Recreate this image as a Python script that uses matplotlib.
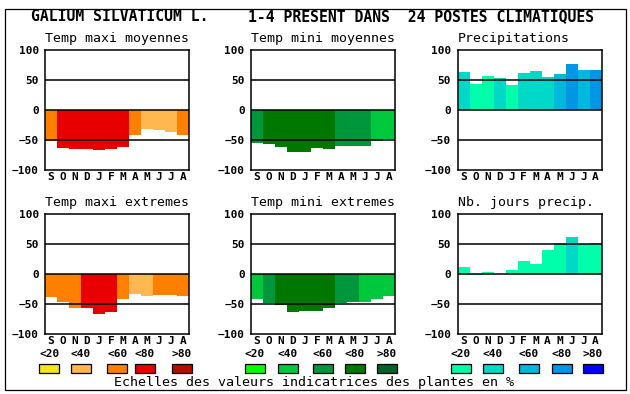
import matplotlib
matplotlib.use("Agg")
import matplotlib.pyplot as plt
from matplotlib.patches import Rectangle

# ---------------- data ----------------
months = ["S", "O", "N", "D", "J", "F", "M", "A", "M", "J", "J", "A"]
yticks = [100, 50, 0, -50, -100]
ytick_labels = ["100", "50", "0", "\u221250", "\u2212100"]
legend_labels = ["<20", "<40", "<60", "<80", ">80"]

title_left = "GALIUM SILVATICUM L."
title_right = "1-4 PRESENT DANS  24 POSTES CLIMATIQUES"
footer = "Echelles des valeurs indicatrices des plantes en %"

panel_titles = ["Temp maxi moyennes", "Temp mini moyennes", "Precipitations",
                "Temp maxi extremes", "Temp mini extremes", "Nb. jours precip."]

tmax_moy = [-52, -64, -65, -65, -67, -65, -62, -42, -31, -34, -37, -41]
tmax_moy_cls = [2, 3, 3, 3, 3, 3, 3, 2, 1, 1, 1, 2]

tmin_moy = [-55, -57, -62, -70, -70, -64, -65, -60, -60, -60, -52, -48]
tmin_moy_cls = [2, 3, 3, 3, 3, 3, 3, 2, 2, 2, 1, 1]

precip = [64, 44, 57, 54, 42, 62, 65, 55, 60, 77, 67, 67]
precip_cls = [1, 0, 0, 1, 0, 1, 1, 1, 2, 3, 2, 3]

tmax_ext = [-38, -46, -56, -56, -66, -64, -42, -34, -36, -35, -35, -36]
tmax_ext_cls = [2, 2, 2, 3, 3, 3, 2, 1, 1, 2, 2, 2]

tmin_ext = [-42, -49, -52, -64, -62, -62, -56, -49, -46, -46, -42, -37]
tmin_ext_cls = [1, 2, 3, 3, 3, 3, 3, 2, 2, 1, 1, 1]

nb_jours = [12, -2, 4, 0, 7, 22, 17, 40, 52, 62, 50, 52]
nb_jours_cls = [0, 0, 0, 0, 0, 0, 0, 0, 0, 1, 0, 0]

pal_warm = ["#F8E41C", "#FFB850", "#FF8000", "#E80000", "#B01000"]
pal_green = ["#00FF00", "#00C83C", "#00963C", "#007800", "#006428"]
pal_blue = ["#00FFAA", "#00D8C8", "#00B8DC", "#0096E6", "#0000FF"]

# ---------------- layout ----------------
W, H = 630, 394
fig = plt.figure(figsize=(W / 100, H / 100), dpi=100)

def fx(x):
    return x / W

def fy(y):
    return 1 - y / H

MONO = "DejaVu Sans Mono"

# outer border
fig.patches.append(Rectangle((fx(4.5), fy(389.5)), fx(621), 381 / H, transform=fig.transFigure,
                             fill=False, edgecolor="black", linewidth=0.9))

fig.text(fx(31), fy(21), title_left, family=MONO, weight="bold", fontsize=10.6, ha="left", va="baseline")
fig.text(fx(248), fy(21), title_right, family=MONO, weight="bold", fontsize=10.6, ha="left", va="baseline")

panels = [
    (tmax_moy, tmax_moy_cls, pal_warm),
    (tmin_moy, tmin_moy_cls, pal_green),
    (precip, precip_cls, pal_blue),
    (tmax_ext, tmax_ext_cls, pal_warm),
    (tmin_ext, tmin_ext_cls, pal_green),
    (nb_jours, nb_jours_cls, pal_blue),
]

lefts = [45, 251, 457.5]
tops = [50, 214]
aw, ah = 144, 120

for i, (vals, cls, pal) in enumerate(panels):
    r, c = divmod(i, 3)
    ax = fig.add_axes([fx(lefts[c]), fy(tops[r] + ah), aw / W, ah / H])
    ax.bar(range(12), vals, width=1.0, color=[pal[k] for k in cls], linewidth=0, zorder=1)
    for yv in (50, 0, -50):
        ax.axhline(yv, color="black", linewidth=1.1, zorder=3)
    ax.set_xlim(-0.5, 11.5)
    ax.set_ylim(-100, 100)
    ax.set_yticks(yticks)
    ax.set_yticklabels(ytick_labels, family=MONO, weight="bold", fontsize=8)
    ax.set_xticks(range(12))
    ax.set_xticklabels(months, family=MONO, weight="bold", fontsize=8)
    ax.tick_params(axis="y", length=0, pad=4.5)
    ax.tick_params(axis="x", length=0, pad=1.5)
    for sp in ax.spines.values():
        sp.set_linewidth(1.1)
        sp.set_color("black")
    t = ax.set_title(panel_titles[i], loc="left", family=MONO, fontsize=9.5, pad=5.5)

# legend
box_lefts = [[39.3, 71, 107.3, 135, 171.7],
             [245, 278, 313, 345, 377],
             [451, 483, 519, 552, 583]]
pals = [pal_warm, pal_green, pal_blue]
for g in range(3):
    for k in range(5):
        x0 = box_lefts[g][k]
        fig.patches.append(Rectangle((fx(x0), fy(373.3)), 20 / W, 9 / H, transform=fig.transFigure,
                                     facecolor=pals[g][k], edgecolor="black", linewidth=0.9))
        fig.text(fx(x0 + 10), fy(354), legend_labels[k], family=MONO, weight="bold", fontsize=8,
                 ha="center", va="center")

fig.text(fx(314), fy(385.7), footer, family=MONO, fontsize=9.6, ha="center", va="baseline")

fig.savefig("out.png", dpi=100)
